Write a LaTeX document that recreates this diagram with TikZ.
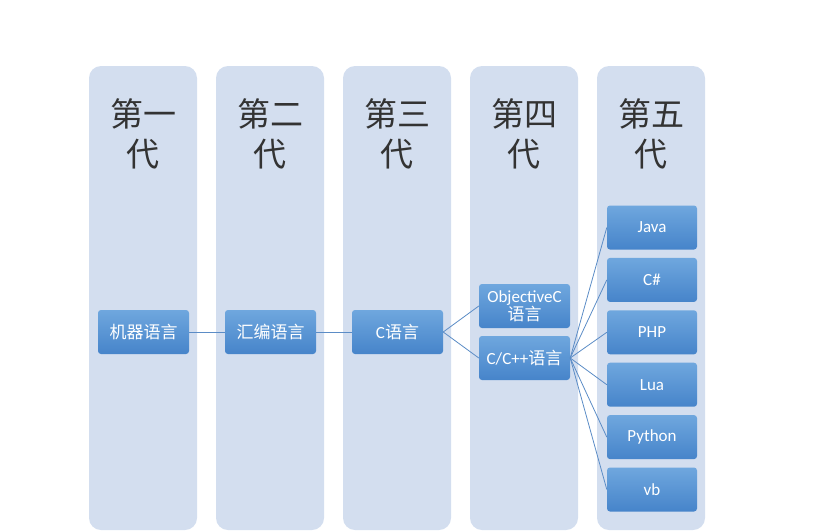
\documentclass[tikz,border=0pt]{standalone}
\usepackage{fontspec}
\setmainfont{Carlito}
\newfontfamily\cjk{Noto Sans CJK SC}
\usetikzlibrary{positioning}

\definecolor{colfill}{HTML}{D3DEEF}
\definecolor{boxtop}{HTML}{6FA7DE}
\definecolor{boxbot}{HTML}{4684CA}
\definecolor{linkblue}{HTML}{5B8CC6}

\tikzset{
  gen/.style={fill=colfill, rounded corners=12pt, minimum width=108pt, minimum height=464pt, inner sep=0pt},
  head/.style={font=\cjk\fontsize{33}{40}\selectfont, align=center, text=black!80},
  lang/.style={top color=boxtop, bottom color=boxbot, rounded corners=3pt, minimum width=91pt,
    minimum height=44pt, text=white, font=\fontsize{17}{18}\selectfont, align=center, inner sep=1pt},
  link/.style={draw=linkblue, line width=0.8pt}
}

\begin{document}
\begin{tikzpicture}[x=1pt,y=-1pt]
\useasboundingbox (0,0) rectangle (840,531);

\foreach \i/\x/\t in {1/143/一, 2/270/二, 3/397/三, 4/524/四, 5/651/五} {
  \node (col\i) [gen] at (\x,298) {};
  \node (head\i) [head] at (\x,134) {第\t\\代};
}

\node (mach) [lang] at (143.5,332) {\cjk 机器语言};
\node (asm) [lang] at (270.5,332) {\cjk 汇编语言};
\node (clang) [lang] at (397.5,332) {C{\cjk 语言}};
\node (objc) [lang] at (524.5,306) {ObjectiveC\\{\cjk 语言}};
\node (cpp) [lang] at (524.5,358) {C/C++{\cjk 语言}};

\node (java) [lang, minimum width=90pt] at (652,227.5) {Java};
\node (csharp) [lang, minimum width=90pt, below=8pt of java] {C\#};
\node (php) [lang, minimum width=90pt, below=8pt of csharp] {PHP};
\node (lua) [lang, minimum width=90pt, below=8pt of php] {Lua};
\node (python) [lang, minimum width=90pt, below=8pt of lua] {Python};
\node (vb) [lang, minimum width=90pt, below=8pt of python] {vb};

\draw [link] (mach) -- (asm);
\draw [link] (asm) -- (clang);
\draw [link] (clang.east) -- (objc.west);
\draw [link] (clang.east) -- (cpp.west);
\foreach \n in {java, csharp, php, lua, python, vb}
  \draw [link] (cpp.east) -- (\n.west);
\end{tikzpicture}
\end{document}
